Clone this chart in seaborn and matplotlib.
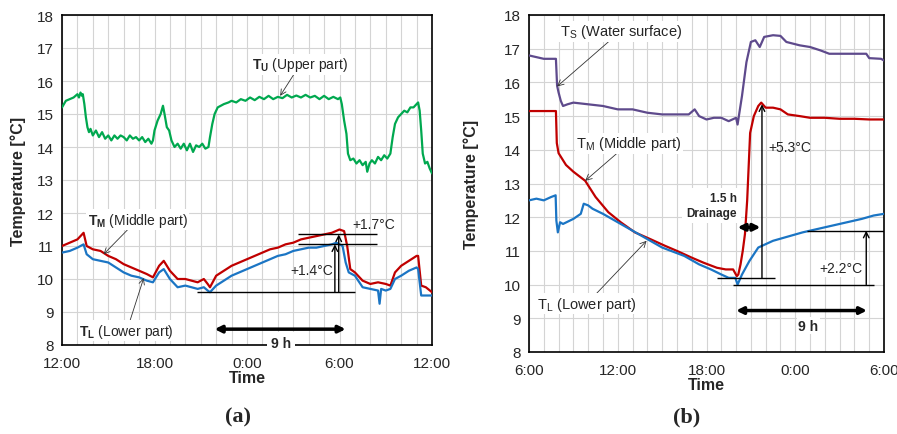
import numpy as np
import pandas as pd
import matplotlib
matplotlib.use('Agg')
import matplotlib.pyplot as plt
import seaborn as sns

# ---- data (hours after start of each panel) ----
# panel (a): 12:00 -> 12:00
a_up_t = [0, .25, .5, .75, 1.0, 1.1, 1.2, 1.3, 1.35, 1.45, 1.55, 1.65, 1.75, 1.85, 2.0, 2.2, 2.4, 2.6, 2.8,
          3.0, 3.2, 3.4, 3.6, 3.8, 4.0, 4.2, 4.4, 4.6, 4.8, 5.0, 5.2, 5.4, 5.6, 5.8, 5.9, 6.0, 6.2, 6.4,
          6.55, 6.65, 6.8, 6.95, 7.1, 7.3, 7.5, 7.7, 7.9, 8.1, 8.3, 8.5, 8.7, 8.9, 9.1, 9.3, 9.5, 9.6,
          9.75, 9.9, 10.1, 10.3, 10.5, 10.8, 11.0, 11.3, 11.6, 11.9, 12.2, 12.5, 12.8, 13.1, 13.4, 13.7,
          14.0, 14.3, 14.6, 14.9, 15.2, 15.5, 15.8, 16.1, 16.4, 16.7, 17.0, 17.3, 17.6, 17.9, 18.05,
          18.15, 18.3, 18.45, 18.55, 18.7, 18.9, 19.1, 19.3, 19.5, 19.7, 19.8, 19.95, 20.1, 20.3, 20.5,
          20.7, 20.9, 21.1, 21.3, 21.45, 21.6, 21.8, 22.0, 22.2, 22.4, 22.6, 22.8, 23.0, 23.1, 23.2,
          23.3, 23.4, 23.55, 23.7, 23.85, 24.0]
a_up_v = [15.2, 15.4, 15.45, 15.5, 15.6, 15.5, 15.65, 15.55, 15.6, 15.3, 14.9, 14.6, 14.45, 14.55, 14.35,
          14.5, 14.3, 14.45, 14.25, 14.35, 14.2, 14.35, 14.25, 14.35, 14.3, 14.2, 14.35, 14.25, 14.3,
          14.2, 14.3, 14.15, 14.25, 14.1, 14.2, 14.5, 14.8, 15.0, 15.25, 15.0, 14.6, 14.5, 14.2, 14.0,
          14.1, 13.95, 14.1, 13.9, 14.1, 13.85, 14.05, 14.0, 14.1, 13.95, 14.0, 14.3, 14.7, 15.0, 15.2,
          15.25, 15.3, 15.35, 15.4, 15.35, 15.45, 15.4, 15.5, 15.42, 15.52, 15.45, 15.55, 15.45, 15.52,
          15.48, 15.58, 15.5, 15.56, 15.5, 15.58, 15.5, 15.55, 15.45, 15.55, 15.45, 15.52, 15.45, 15.5,
          15.3, 14.8, 14.4, 13.8, 13.6, 13.65, 13.5, 13.6, 13.45, 13.55, 13.25, 13.5, 13.6, 13.5, 13.7,
          13.6, 13.75, 13.65, 13.8, 14.3, 14.7, 14.9, 15.0, 15.1, 15.05, 15.2, 15.2, 15.3, 15.35, 15.1,
          14.5, 13.8, 13.5, 13.55, 13.35, 13.2]

a_mid_t = [0, 0.5, 1.0, 1.4, 1.6, 2.0, 2.5, 3.0, 3.5, 4.0, 4.5, 5.0, 5.5, 5.9, 6.3, 6.6, 7.0, 7.5, 8.0,
           8.8, 9.2, 9.45, 9.6, 10.0, 10.5, 11, 11.5, 12, 12.5, 13, 13.5, 14, 14.5, 15, 15.5, 16, 16.5,
           17, 17.5, 18, 18.3, 18.5, 18.7, 19, 19.5, 20, 20.5, 21, 21.3, 21.6, 22, 22.5, 23, 23.1, 23.3,
           23.6, 24]
a_mid_v = [11.0, 11.1, 11.2, 11.4, 11.0, 10.9, 10.85, 10.7, 10.6, 10.45, 10.35, 10.25, 10.15, 10.05, 10.4,
           10.55, 10.25, 10.0, 10.0, 9.9, 10.0, 9.85, 9.75, 10.1, 10.25, 10.4, 10.5, 10.6, 10.7, 10.8,
           10.9, 10.95, 11.05, 11.1, 11.2, 11.25, 11.3, 11.35, 11.4, 11.5, 11.45, 11.0, 10.3, 10.2, 9.95,
           9.85, 9.9, 9.85, 9.8, 10.2, 10.4, 10.55, 10.7, 10.7, 9.8, 9.75, 9.6]

a_low_t = [0, 0.5, 1.0, 1.4, 1.6, 2.0, 2.5, 3.0, 3.5, 4.0, 4.5, 5.0, 5.5, 5.9, 6.3, 6.6, 7.0, 7.5, 8.0,
           8.8, 9.2, 9.45, 9.6, 10.0, 10.5, 11, 11.5, 12, 12.5, 13, 13.5, 14, 14.5, 15, 15.5, 16, 16.5,
           17, 17.5, 17.8, 18.2, 18.4, 18.6, 19, 19.5, 20, 20.5, 20.6, 20.7, 21, 21.3, 21.6, 22, 22.5,
           23.0, 23.1, 23.3, 24]
a_low_v = [10.8, 10.85, 10.95, 11.05, 10.75, 10.6, 10.55, 10.5, 10.35, 10.2, 10.1, 10.05, 9.95, 9.9, 10.2,
           10.3, 10.0, 9.75, 9.8, 9.7, 9.75, 9.65, 9.6, 9.8, 9.95, 10.1, 10.2, 10.3, 10.4, 10.5, 10.6,
           10.7, 10.75, 10.85, 10.9, 10.95, 10.95, 11.0, 11.05, 11.1, 11.0, 10.5, 10.2, 10.1, 9.75, 9.7,
           9.65, 9.25, 9.7, 9.65, 9.7, 10.0, 10.1, 10.25, 10.35, 10.3, 9.5, 9.5]

# panel (b): 6:00 -> 6:00
b_surf_t = [0, 0.5, 1.0, 1.5, 1.82, 1.9, 2.0, 2.15, 2.3, 2.6, 3.0, 4.0, 5.0, 6.0, 7.0, 8.0, 9.0, 10.0,
            10.8, 11.2, 11.5, 12.0, 12.5, 13.0, 13.5, 14.0, 14.1, 14.4, 14.7, 15.0, 15.3, 15.6, 15.9,
            16.5, 17.0, 17.4, 18.3, 19.0, 19.7, 20.3, 21.0, 22.0, 22.8, 23.0, 23.8, 24.0]
b_surf_v = [16.8, 16.75, 16.7, 16.7, 16.7, 15.9, 15.7, 15.45, 15.3, 15.35, 15.4, 15.35, 15.3, 15.2, 15.2,
            15.1, 15.05, 15.05, 15.05, 15.2, 15.0, 14.9, 14.95, 14.95, 14.85, 14.95, 14.75, 15.6, 16.6,
            17.2, 17.25, 17.05, 17.35, 17.4, 17.38, 17.2, 17.1, 17.05, 16.95, 16.85, 16.85, 16.85, 16.85,
            16.72, 16.7, 16.65]

b_mid_t = [0, 1.0, 1.82, 1.88, 2.0, 2.5, 3.0, 3.8, 4.5, 5.36, 6.2, 7.16, 8.2, 9.2, 10.0, 11.0, 11.8, 12.7,
           13.3, 13.8, 14.05, 14.15, 14.3, 14.45, 14.6, 14.75, 14.85, 14.95, 15.2, 15.5, 15.7, 16.0,
           16.5, 17.0, 17.5, 18.3, 19.0, 20.0, 21.0, 22.0, 23.0, 24.0]
b_mid_v = [15.15, 15.15, 15.15, 14.2, 13.9, 13.55, 13.35, 13.08, 12.6, 12.15, 11.85, 11.55, 11.35, 11.15,
           11.0, 10.8, 10.65, 10.5, 10.45, 10.45, 10.25, 10.3, 10.6, 11.0, 11.5, 12.5, 13.5, 14.5, 15.0,
           15.3, 15.4, 15.25, 15.25, 15.2, 15.05, 15.0, 14.95, 14.95, 14.92, 14.92, 14.9, 14.9]

b_low_t = [0, 0.5, 1.0, 1.5, 1.8, 1.85, 1.95, 2.1, 2.3, 3.0, 3.5, 3.7, 4.0, 4.3, 5.0, 6.0, 7.0, 8.0, 9.0,
           10.5, 11.5, 12.3, 13.0, 13.5, 13.95, 14.1, 14.4, 14.9, 15.5, 16.5, 17.3, 18.5, 19.5, 20.5,
           21.5, 22.5, 23.3, 24.0]
b_low_v = [12.5, 12.55, 12.5, 12.6, 12.65, 11.9, 11.55, 11.85, 11.8, 11.95, 12.1, 12.4, 12.35, 12.25,
           12.1, 11.85, 11.6, 11.35, 11.1, 10.85, 10.6, 10.45, 10.3, 10.2, 10.2, 10.0, 10.3, 10.7, 11.1,
           11.3, 11.4, 11.55, 11.65, 11.75, 11.85, 11.95, 12.05, 12.1]

a_ticks = ['12:00', '18:00', '0:00', '6:00', '12:00']
b_ticks = ['6:00', '12:00', '18:00', '0:00', '6:00']

GREEN = '#00A84F'
RED = '#C00000'
BLUE = '#1B75C4'
PURPLE = '#5E4A8C'

sns.set_style('white')
plt.rcParams['font.family'] = ['Liberation Sans', 'DejaVu Sans']
plt.rcParams['mathtext.fontset'] = 'custom'
plt.rcParams['mathtext.rm'] = 'Liberation Sans'
plt.rcParams['mathtext.bf'] = 'Liberation Sans:bold'

fig = plt.figure(figsize=(8.97, 4.35), dpi=100)
W, H = 897, 435
axa = fig.add_axes([62 / W, 1 - 346 / H, (432 - 62) / W, (346 - 16) / H])
axb = fig.add_axes([529 / W, 1 - 353 / H, (884 - 529) / W, (353 - 16) / H])


def series(ax, t, v, c):
    df = pd.DataFrame({'hour': t, 'temp': v})
    sns.lineplot(data=df, x='hour', y='temp', ax=ax, color=c, lw=1.6,
                 estimator=None, sort=False, zorder=3)


def style(ax, labels, ypad):
    ax.set_xlim(0, 24)
    ax.set_ylim(8, 18)
    ax.set_xticks(range(0, 25, 6))
    ax.set_xticklabels(labels)
    ax.set_xticks(range(25), minor=True)
    ax.set_yticks(range(8, 19))
    ax.grid(which='both', color='#d4d4d4', lw=0.8)
    ax.tick_params(which='both', length=0, labelsize=11)
    ax.tick_params(axis='x', pad=8)
    ax.tick_params(axis='y', pad=6)
    for s in ax.spines.values():
        s.set_color('black')
        s.set_linewidth(1.2)
    ax.set_xlabel('Time', fontsize=11.5, fontweight='bold', labelpad=0)
    ax.set_ylabel('Temperature [°C]', fontsize=11.5, fontweight='bold', labelpad=ypad)


# ---- panel (a) ----
series(axa, a_up_t, a_up_v, GREEN)
series(axa, a_mid_t, a_mid_v, RED)
series(axa, a_low_t, a_low_v, BLUE)
style(axa, a_ticks, 8)

thin = dict(arrowstyle='->', lw=0.6, color='#333333', shrinkA=0, shrinkB=0)
box = dict(facecolor='white', edgecolor='none', pad=1)

axa.annotate(r'$\mathbf{T_U}$ (Upper part)', xy=(14.15, 15.55), xytext=(15.45, 16.5),
             ha='center', va='center', fontsize=10, arrowprops=thin, bbox=box, zorder=5)
axa.annotate(r'$\mathbf{T_M}$ (Middle part)', xy=(2.7, 10.75), xytext=(4.9, 11.8),
             ha='center', va='center', fontsize=10, arrowprops=thin, bbox=box, zorder=5)
axa.annotate(r'$\mathbf{T_L}$ (Lower part)', xy=(5.3, 10.03), xytext=(4.2, 8.43),
             ha='center', va='center', fontsize=10, arrowprops=thin, bbox=box, zorder=5)

axa.hlines(9.6, 8.75, 19.0, color='black', lw=1, zorder=4)
axa.hlines([11.35, 11.05], 15.3, 20.4, color='black', lw=1, zorder=4)
arr = dict(arrowstyle='->', lw=1, color='black', shrinkA=0, shrinkB=0)
axa.annotate('', xy=(17.7, 11.05), xytext=(17.7, 9.6), arrowprops=arr, zorder=4)
axa.annotate('', xy=(17.95, 11.35), xytext=(17.95, 9.6), arrowprops=arr, zorder=4)
axa.text(20.2, 11.67, '+1.7°C', ha='center', va='center', fontsize=10)
axa.text(16.2, 10.27, '+1.4°C', ha='center', va='center', fontsize=10)
thick = dict(arrowstyle='<|-|>', lw=2.5, color='black', mutation_scale=10, shrinkA=0, shrinkB=0)
axa.annotate('', xy=(18.4, 8.48), xytext=(9.9, 8.48), arrowprops=thick, zorder=4)
axa.text(14.2, 8.06, '9 h', ha='center', va='center', fontsize=10, fontweight='bold',
         bbox=dict(facecolor='white', edgecolor='none', pad=3), zorder=6, clip_on=False)

# ---- panel (b) ----
series(axb, b_surf_t, b_surf_v, PURPLE)
series(axb, b_mid_t, b_mid_v, RED)
series(axb, b_low_t, b_low_v, BLUE)
style(axb, b_ticks, 18)

axb.annotate(r'T$_\mathrm{S}$ (Water surface)', xy=(1.9, 15.88), xytext=(6.2, 17.52),
             ha='center', va='center', fontsize=10.5, arrowprops=thin, bbox=box, zorder=5)
axb.annotate(r'T$_\mathrm{M}$ (Middle part)', xy=(3.8, 13.08), xytext=(6.75, 14.2),
             ha='center', va='center', fontsize=10.5, arrowprops=thin, bbox=box, zorder=5)
axb.annotate(r'T$_\mathrm{L}$ (Lower part)', xy=(7.95, 11.3), xytext=(3.9, 9.43),
             ha='center', va='center', fontsize=10.5, arrowprops=thin, bbox=box, zorder=5)

axb.hlines(10.2, 12.7, 16.6, color='black', lw=1, zorder=4)
axb.hlines(10.0, 13.8, 23.3, color='black', lw=1, zorder=4)
axb.hlines(11.6, 18.8, 24, color='black', lw=1, zorder=4)
axb.annotate('', xy=(15.75, 15.35), xytext=(15.75, 10.2), arrowprops=arr, zorder=4)
axb.annotate('', xy=(22.8, 11.6), xytext=(22.8, 10.0), arrowprops=arr, zorder=4)
axb.text(17.6, 14.07, '+5.3°C', ha='center', va='center', fontsize=10)
axb.text(21.1, 10.48, '+2.2°C', ha='center', va='center', fontsize=10, bbox=box)
axb.annotate('', xy=(15.65, 11.7), xytext=(14.1, 11.7), arrowprops=thick, zorder=4)
axb.text(14.05, 12.35, '1.5 h\nDrainage', ha='right', va='center', fontsize=8.5,
         fontweight='bold', linespacing=1.3, multialignment='right',
         bbox=dict(facecolor='white', edgecolor='none', pad=3), zorder=5)
axb.annotate('', xy=(22.85, 9.23), xytext=(14.0, 9.23), arrowprops=thick, zorder=4)
axb.text(18.9, 8.78, '9 h', ha='center', va='center', fontsize=10, fontweight='bold',
         bbox=box, zorder=5)

fig.text(238 / W, 1 - 417 / H, '(a)', ha='center', va='center', fontsize=16,
         family='Liberation Serif', fontweight='bold')
fig.text(687 / W, 1 - 417 / H, '(b)', ha='center', va='center', fontsize=16,
         family='Liberation Serif', fontweight='bold')

fig.savefig('out.png', dpi=100)
